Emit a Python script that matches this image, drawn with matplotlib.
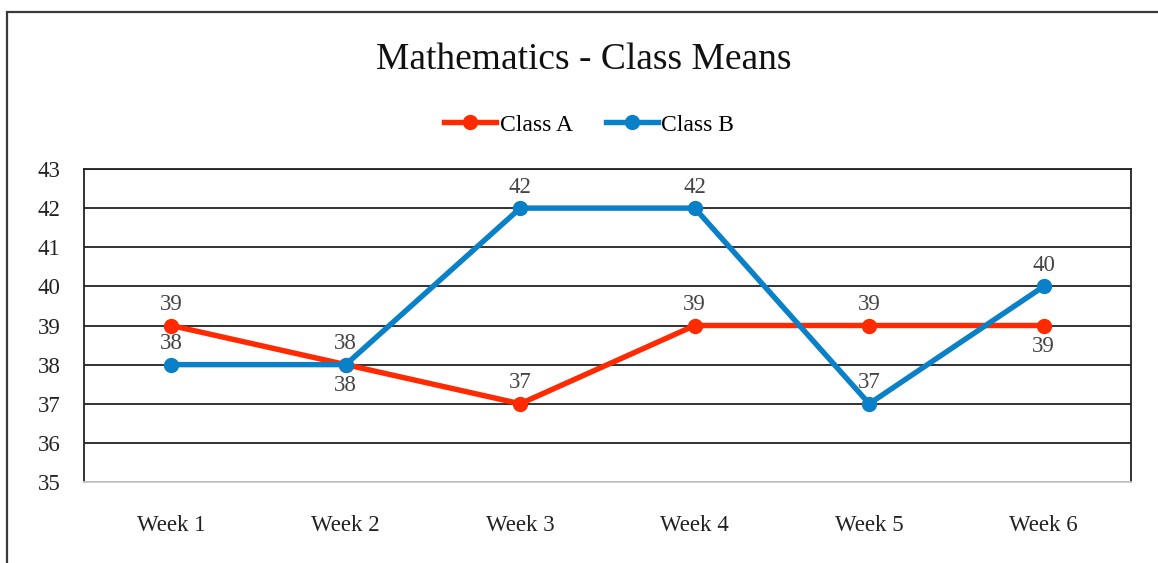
import matplotlib
matplotlib.use('Agg')
import matplotlib.pyplot as plt
from matplotlib.patches import Rectangle

weeks = ['Week 1', 'Week 2', 'Week 3', 'Week 4', 'Week 5', 'Week 6']
class_a = [39, 38, 37, 39, 39, 39]
class_b = [38, 38, 42, 42, 37, 40]
# label placement: +1 above the point, -1 below
pos_a = [1, -1, 1, 1, 1, -1]
pos_b = [1, 1, 1, 1, 1, 1]

plt.rcParams['font.family'] = ['Liberation Serif', 'DejaVu Serif']

fig = plt.figure(figsize=(11.58, 5.63), dpi=100)
ax = fig.add_axes([84 / 1158, 81 / 563, 1047 / 1158, 313 / 563])

# outer chart frame, cut off at right and bottom like the screenshot
fig.patches.append(Rectangle((7 / 1158, -0.1), 1.2, (563 - 12) / 563 + 0.1,
                             transform=fig.transFigure, fill=False,
                             edgecolor='#3a3a3a', linewidth=1.6))

red = '#ff2a00'
blue = '#0a80c8'
x = range(len(weeks))
ax.plot(x, class_a, color=red, lw=3.9, marker='o', ms=10, label='Class A', zorder=3)
ax.plot(x, class_b, color=blue, lw=3.9, marker='o', ms=10, label='Class B', zorder=4)

for xs, ys, ps in [(x, class_a, pos_a), (x, class_b, pos_b)]:
    for xi, yi, p in zip(xs, ys, ps):
        ax.annotate(str(yi), (xi, yi), xytext=(0, 15 * p), textcoords='offset points',
                    ha='center', va='center', fontsize=16.5, color='#444444', zorder=5)

ax.set_xlim(-0.5, 5.5)
ax.set_ylim(35, 43)
ax.set_yticks(range(35, 44))
ax.set_xticks(list(x))
ax.set_xticklabels(weeks)
ax.tick_params(length=0, labelsize=16.5, colors='#222222')
ax.tick_params(axis='x', pad=24)
ax.tick_params(axis='y', pad=17)
ax.grid(axis='y', color='#222222', lw=1.3)
ax.set_axisbelow(True)
for s in ['left', 'right', 'top']:
    ax.spines[s].set_color('#222222')
    ax.spines[s].set_linewidth(1.3)
ax.spines['bottom'].set_color('#cccccc')
ax.spines['bottom'].set_linewidth(1.3)

fig.text(584 / 1158, 1 - 60 / 563, 'Mathematics - Class Means', ha='center', va='center',
         fontsize=27, color='#111111')
fig.legend(loc='center', bbox_to_anchor=(589 / 1158, 1 - 125 / 563), ncol=2, frameon=False,
           fontsize=17, handlelength=2.2, handletextpad=0.15, columnspacing=1.4)

plt.savefig('out.png', dpi=100)
